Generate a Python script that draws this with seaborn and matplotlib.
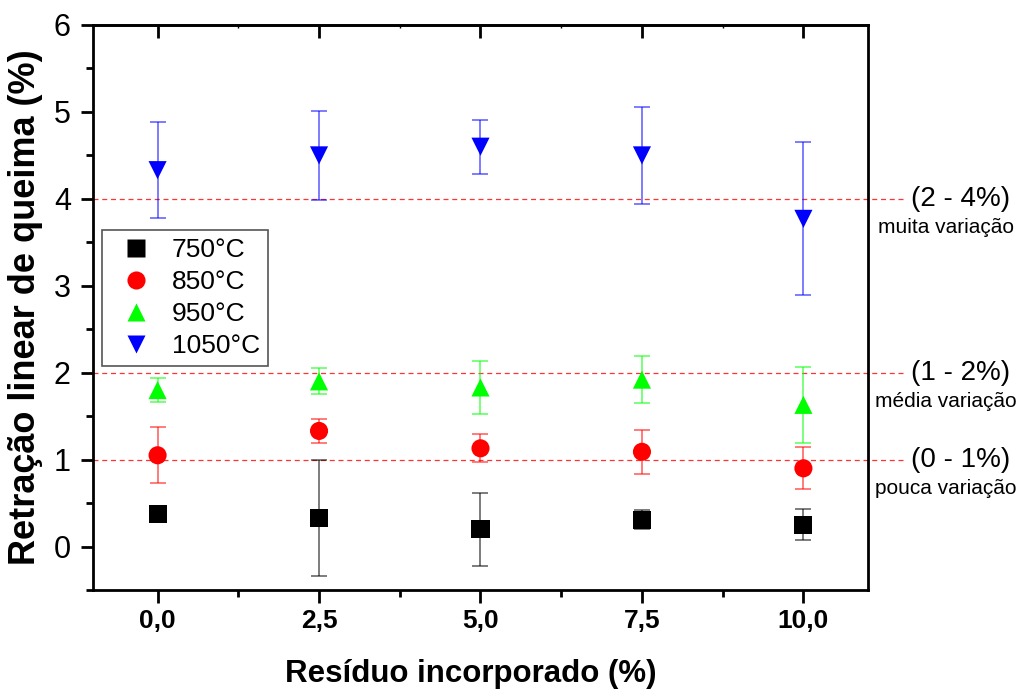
import numpy as np
import pandas as pd
import matplotlib
matplotlib.use("Agg")
import matplotlib.pyplot as plt
from matplotlib.ticker import MultipleLocator, FixedLocator, FixedFormatter, NullFormatter
from matplotlib.transforms import blended_transform_factory
import seaborn as sns

# Residue content (%)
residue = [0.0, 2.5, 5.0, 7.5, 10.0]
residue_labels = ["0,0", "2,5", "5,0", "7,5", "10,0"]

# Linear firing shrinkage (%) and standard deviations per firing temperature
temperatures = ["750°C", "850°C", "950°C", "1050°C"]
shr_750 = [0.37, 0.33, 0.20, 0.31, 0.25]
err_750 = [0.06, 0.67, 0.42, 0.11, 0.18]
shr_850 = [1.05, 1.33, 1.13, 1.09, 0.90]
err_850 = [0.32, 0.14, 0.16, 0.25, 0.24]
shr_950 = [1.80, 1.90, 1.83, 1.92, 1.63]
err_950 = [0.14, 0.15, 0.31, 0.27, 0.44]
shr_1050 = [4.33, 4.50, 4.60, 4.50, 3.77]
err_1050 = [0.55, 0.51, 0.31, 0.56, 0.88]

# Variation bands
band_levels = [4, 2, 1]
band_titles = ["(2 - 4%)", "(1 - 2%)", "(0 - 1%)"]
band_notes = ["muita variação", "média variação", "pouca variação"]

values = [shr_750, shr_850, shr_950, shr_1050]
errors = [err_750, err_850, err_950, err_1050]
colors = ["#000000", "#ff0000", "#00ff00", "#0000ff"]
markers = ["s", "o", "^", "v"]

df = pd.DataFrame({
    "residuo": residue * 4,
    "retracao": sum(values, []),
    "erro": sum(errors, []),
    "temp": [t for t in temperatures for _ in residue],
})

sns.set_style("ticks")
plt.rcParams["font.family"] = ["Liberation Sans", "DejaVu Sans"]
plt.rcParams.update({
    "text.color": "black",
    "axes.labelcolor": "black",
    "xtick.color": "black",
    "ytick.color": "black",
})

fig = plt.figure(figsize=(10.22, 6.9), dpi=100)
ax = fig.add_axes([93 / 1022, 1 - 590 / 690, 775 / 1022, 565 / 690])

# Reference bands (extend past the right spine towards the labels)
trans = blended_transform_factory(ax.transAxes, ax.transData)
for lvl in band_levels:
    ax.plot([0, 1.045], [lvl, lvl], transform=trans, clip_on=False,
            color="#ff3333", lw=0.9, ls=(0, (4, 3)), zorder=1)

# Error bars
for temp, col in zip(temperatures, colors):
    sub = df[df["temp"] == temp]
    ax.errorbar(sub["residuo"], sub["retracao"], yerr=sub["erro"], fmt="none",
                ecolor=col, alpha=0.6, elinewidth=1.2, capsize=6, capthick=1.2,
                zorder=2)

sns.scatterplot(data=df, x="residuo", y="retracao", hue="temp", style="temp",
                hue_order=temperatures, style_order=temperatures,
                palette=colors, markers=markers, s=170, edgecolor="none",
                ax=ax, zorder=3)

ax.set_xlim(-1, 11)
ax.set_ylim(-0.5, 6)
ax.xaxis.set_major_locator(FixedLocator(residue))
ax.xaxis.set_major_formatter(FixedFormatter(residue_labels))
ax.xaxis.set_minor_locator(MultipleLocator(1.25))
ax.yaxis.set_major_locator(MultipleLocator(1))
ax.yaxis.set_minor_locator(MultipleLocator(0.5))

for side in ["left", "right", "top", "bottom"]:
    ax.spines[side].set_visible(True)
    ax.spines[side].set_linewidth(2)
    ax.spines[side].set_color("black")

ax.tick_params(axis="both", which="major", direction="out", length=9, width=2)
ax.tick_params(axis="both", which="minor", direction="out", length=5, width=2)
ax.tick_params(axis="x", which="both", top=False)
ax.tick_params(axis="y", which="both", right=False)
ax.tick_params(axis="x", which="major", labelsize=19, pad=5)
ax.tick_params(axis="y", which="major", labelsize=22, pad=7)
for lab in ax.get_xticklabels():
    lab.set_fontweight("bold")

# Top axis: inward major ticks, tiny minor ticks, no labels
top = ax.secondary_xaxis("top")
top.xaxis.set_major_locator(FixedLocator(residue))
top.xaxis.set_minor_locator(MultipleLocator(1.25))
top.xaxis.set_major_formatter(NullFormatter())
top.tick_params(which="major", direction="in", length=9, width=2)
top.tick_params(which="minor", direction="in", length=2, width=1)
top.spines["top"].set_linewidth(2)

ax.set_xlabel("Resíduo incorporado (%)", fontsize=22.5, fontweight="bold")
ax.xaxis.set_label_coords(0.487, -0.123)
ax.set_ylabel("Retração linear de queima (%)", fontsize=26, fontweight="bold", labelpad=8)

# Band labels
for lvl, title, note in zip(band_levels, band_titles, band_notes):
    ax.text(1.120, lvl, title, transform=trans, fontsize=20, ha="center",
            va="center", clip_on=False)
    ax.text(1.100, lvl - 0.33, note, transform=trans, fontsize=15, ha="center",
            va="center", clip_on=False)

leg = ax.legend(loc="upper left", bbox_to_anchor=(0.0116, 0.637), borderaxespad=0,
                fontsize=19, frameon=True, fancybox=False, handletextpad=0.35,
                borderpad=0.3, labelspacing=0.3, markerscale=1.0)
leg.get_frame().set_edgecolor("#555555")
leg.get_frame().set_linewidth(1.2)
leg.get_frame().set_alpha(1)

fig.savefig("out.png", dpi=100)
